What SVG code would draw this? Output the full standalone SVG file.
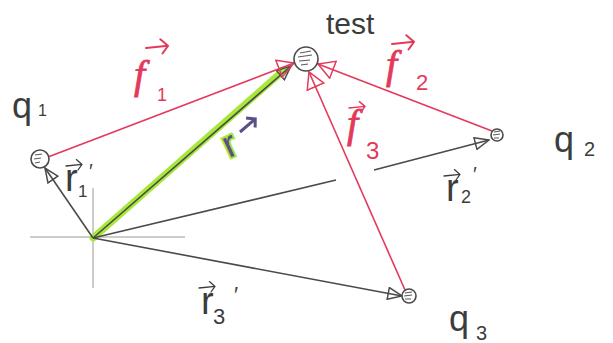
<svg xmlns="http://www.w3.org/2000/svg" width="613" height="343" viewBox="0 0 613 343">
<style>
.ax{stroke:#9a9a9a;stroke-width:1;fill:none}
.vec{stroke:#4a4a4a;stroke-width:1.6;fill:none}
.red{stroke:#e3395b;stroke-width:1.6;fill:none}
.chg{stroke:#4a4a4a;stroke-width:1.6;fill:#fff}
.scr{stroke:#5a5a5a;stroke-width:1.2;fill:none}
.lbl{font-family:"Liberation Sans",Arial,sans-serif;fill:#3c3c3c}
.rl{font-family:"Liberation Sans",Arial,sans-serif;fill:#e3395b}
.fl{font-family:"Liberation Serif","Times New Roman",serif;font-style:italic;fill:#e3395b;stroke:#e3395b;stroke-width:0.8}
.accG{stroke:#3c3c3c;stroke-width:1.6;fill:none;stroke-linecap:round;stroke-linejoin:round}
.accR{stroke:#e3395b;stroke-width:1.8;fill:none;stroke-linecap:round;stroke-linejoin:round}
</style>
<defs>
<marker id="hg" viewBox="0 0 16 14" refX="15" refY="7" markerWidth="16" markerHeight="14" markerUnits="userSpaceOnUse" orient="auto">
<path d="M1,1 L15,7 L1,13 Z" fill="none" stroke="#4a4a4a" stroke-width="1.5"/>
</marker>
<marker id="hr" viewBox="0 0 18 20" refX="17" refY="10" markerWidth="18" markerHeight="20" markerUnits="userSpaceOnUse" orient="auto">
<path d="M1,1 L17,10 L1,19 Z" fill="none" stroke="#e3395b" stroke-width="1.5"/>
</marker>
<path id="acc" d="M0,0 L20,-2 M13,-8 L20,-2 L15,5"/>
</defs>

<g id="axes">
<line class="ax" x1="30" y1="237" x2="185" y2="237"/>
<line class="ax" x1="93" y1="188" x2="93" y2="288"/>
</g>

<g id="connectors">
<line x1="93" y1="238" x2="284" y2="70" stroke="#a7e83a" stroke-width="7" stroke-linecap="round"/>
<line class="vec" x1="93" y1="238" x2="291" y2="66" marker-end="url(#hg)"/>
<line class="vec" x1="93" y1="238" x2="45" y2="168" marker-end="url(#hg)"/>
<line class="vec" x1="93" y1="238" x2="336" y2="180"/>
<line class="vec" x1="374" y1="170" x2="489" y2="140" marker-end="url(#hg)"/>
<line class="vec" x1="93" y1="238" x2="402" y2="296" marker-end="url(#hg)"/>
<line class="red" x1="48" y1="157" x2="294" y2="63" marker-end="url(#hr)"/>
<line class="red" x1="492" y1="131" x2="318" y2="64" marker-end="url(#hr)"/>
<line class="red" x1="405" y1="290" x2="309" y2="72" marker-end="url(#hr)"/>
</g>

<g id="q1">
<circle class="chg" cx="40" cy="159" r="9"/>
<path class="scr" d="M35,155 L42,154 M34,159 L41,158 M35,163 L40,162"/>
<text class="lbl" x="12" y="118" font-size="36">q</text>
<text class="lbl" x="38" y="116" font-size="16">1</text>
</g>

<g id="test">
<circle class="chg" cx="306" cy="59" r="12"/>
<path class="scr" d="M300,53 L311,51 M298,57 L312,55 M299,61 L310,60 M301,65 L308,64"/>
<text class="lbl" x="326" y="34" font-size="30">test</text>
</g>

<g id="q2">
<circle class="chg" cx="497" cy="135" r="6"/>
<path class="scr" d="M494,132 L500,131 M493,135 L500,134 M494,138 L499,138"/>
<text class="lbl" x="554" y="152" font-size="36">q</text>
<text class="lbl" x="584" y="156" font-size="20">2</text>
</g>

<g id="q3">
<circle class="chg" cx="409" cy="296" r="7"/>
<path class="scr" d="M405,293 L412,292 M404,296 L412,295 M405,299 L411,299"/>
<text class="lbl" x="449" y="331" font-size="36">q</text>
<text class="lbl" x="476" y="340" font-size="20">3</text>
</g>

<g id="label-r">
<text x="224" y="154" font-size="38" font-family="Liberation Sans, Arial, sans-serif" fill="#5b4f86" stroke="#a7e83a" stroke-width="4" paint-order="stroke" transform="rotate(-25 236 145)">r</text>
<use href="#acc" stroke="#5b4f86" stroke-width="3" fill="none" transform="translate(240,132) rotate(-35)"/>
</g>

<g id="label-r1">
<use href="#acc" class="accG" transform="translate(66,166) scale(0.8)"/>
<text class="lbl" x="65" y="191" font-size="38">r</text>
<text class="lbl" x="78" y="197" font-size="17">1</text>
<text class="lbl" x="89" y="178" font-size="20">′</text>
</g>

<g id="label-r2">
<use href="#acc" class="accG" transform="translate(444,176) scale(0.8)"/>
<text class="lbl" x="446" y="201" font-size="38">r</text>
<text class="lbl" x="461" y="203" font-size="18">2</text>
<text class="lbl" x="473" y="181" font-size="20">′</text>
</g>

<g id="label-r3">
<use href="#acc" class="accG" transform="translate(199,288) scale(0.8)"/>
<text class="lbl" x="201" y="314" font-size="38">r</text>
<text class="lbl" x="213" y="324" font-size="22">3</text>
<text class="lbl" x="234" y="302" font-size="22">′</text>
</g>

<g id="label-f1">
<use href="#acc" class="accR" transform="translate(146,48) scale(1.1)"/>
<text class="fl" x="134" y="88" font-size="40">f</text>
<text class="rl" x="157" y="101" font-size="18">1</text>
</g>

<g id="label-f2">
<use href="#acc" class="accR" transform="translate(392,44) scale(1.1)"/>
<text class="fl" x="386" y="78" font-size="40">f</text>
<text class="rl" x="416" y="90" font-size="22">2</text>
</g>

<g id="label-f3">
<use href="#acc" class="accR" transform="translate(349,108) scale(0.8)"/>
<text class="fl" x="347" y="137" font-size="40">f</text>
<text class="rl" x="366" y="159" font-size="24">3</text>
</g>
</svg>
